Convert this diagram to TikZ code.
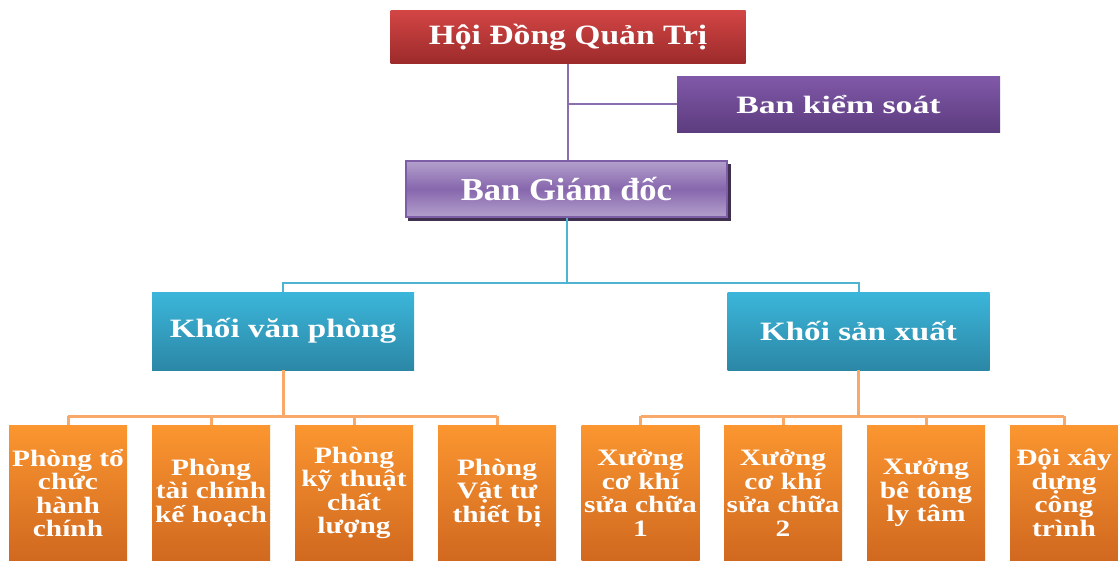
\documentclass[tikz,border=0pt]{standalone}
\usepackage{fontspec}
\setmainfont{Liberation Serif}
\newfontfamily\widefont[FakeStretch=1.25]{Liberation Serif}
\newfontfamily\widerfont[FakeStretch=1.35]{Liberation Serif}
\newfontfamily\topfont[FakeStretch=1.2]{Liberation Serif}
\newfontfamily\midfont[FakeStretch=1.08]{Liberation Serif}
\usepackage{tikz}
\usetikzlibrary{calc}

\definecolor{redtop}{HTML}{D24545}
\definecolor{redbot}{HTML}{9C2A2A}
\definecolor{purptop}{HTML}{8058A8}
\definecolor{purpbot}{HTML}{5C3C7E}
\definecolor{lilac}{HTML}{B3A0CC}
\definecolor{lilacmid}{HTML}{8767AD}
\definecolor{lilacline}{HTML}{7D5EA6}
\definecolor{lilacshadow}{HTML}{3F3050}
\definecolor{cyantop}{HTML}{3BB6DA}
\definecolor{cyanbot}{HTML}{2C87A6}
\definecolor{orangetop}{HTML}{FB9630}
\definecolor{orangebot}{HTML}{D0681F}
\definecolor{purpline}{HTML}{8A6FB0}
\definecolor{cyanline}{HTML}{4FB4D2}
\definecolor{orangeline}{HTML}{F8A868}

\tikzset{
    box/.style={inner sep=0pt, text=white, align=center},
    redbox/.style={box, top color=redtop, bottom color=redbot,
        minimum width=355, minimum height=53,
        font=\topfont\bfseries\fontsize{28}{30}\selectfont},
    purpbox/.style={box, top color=purptop, bottom color=purpbot,
        minimum width=323, minimum height=56,
        font=\widerfont\bfseries\fontsize{25}{27}\selectfont},
    lilacbox/.style={box, top color=lilac, bottom color=lilac, middle color=lilacmid,
        draw=lilacline, line width=2pt, minimum width=321, minimum height=56,
        font=\midfont\bfseries\fontsize{32}{34}\selectfont},
    cyanbox/.style={box, top color=cyantop, bottom color=cyanbot,
        minimum width=262, minimum height=78,
        font=\widefont\bfseries\fontsize{26.5}{28}\selectfont},
    orangebox/.style={box, top color=orangetop, bottom color=orangebot,
        minimum width=118, minimum height=136,
        font=\widefont\bfseries\fontsize{23.5}{23.5}\selectfont},
    purpconn/.style={draw=purpline, line width=2pt},
    cyanconn/.style={draw=cyanline, line width=2pt},
    orangeconn/.style={draw=orangeline, line width=3pt},
}

\begin{document}
\begin{tikzpicture}[x=1pt,y=-1pt]
    \useasboundingbox (0,0) rectangle (1118,561);
    \coordinate (pbus) at (0,104);
    \coordinate (cbus) at (0,283);
    \coordinate (obus) at (0,416);

    \node[redbox] (hdqt) at (568,37.5) {Hội Đồng Quản Trị};
    \node[purpbox] (bks) at (838.5,105) {Ban kiểm soát};
    \fill[lilacshadow] (408,164) rectangle (731,221);
    \node[lilacbox] (bgd) at (566.5,189) {Ban Giám đốc};
    \node[cyanbox] (kvp) at (283,331) {Khối văn phòng};
    \node[cyanbox] (ksx) at (858.5,331) {Khối sản xuất};

    \foreach \name/\x/\txt in {p1/68/{Phòng tổ\\chức\\hành\\chính},
        p2/211/{Phòng\\tài chính\\kế hoạch},
        p3/354/{Phòng\\kỹ thuật\\chất\\lượng},
        p4/497/{Phòng\\Vật tư\\thiết bị},
        x1/640.5/{Xưởng\\cơ khí\\sửa chữa\\1},
        x2/783/{Xưởng\\cơ khí\\sửa chữa\\2},
        x3/926/{Xưởng\\bê tông\\ly tâm}}
        \node[orangebox] (\name) at (\x,493) {\txt};
    \node[orangebox, minimum width=108] (x4) at (1064,493) {Đội xây\\dựng\\công\\trình};

    % purple
    \draw[purpconn] (hdqt.south) -- (hdqt.south |- bgd.north);
    \draw[purpconn] (hdqt.south |- pbus) -- (bks.west |- pbus);
    % cyan
    \draw[cyanconn] (bgd.south) -- (bgd.south |- cbus);
    \draw[cyanconn] (kvp.north) -- (kvp.north |- cbus) -- (ksx.north |- cbus) -- (ksx.north);
    % orange
    \draw[orangeconn] (kvp.south) -- (kvp.south |- obus);
    \draw[orangeconn] (ksx.south) -- (ksx.south |- obus);
    \draw[orangeconn] (p1.north |- obus) -- (p4.north |- obus);
    \draw[orangeconn] (x1.north |- obus) -- (x4.north |- obus);
    \foreach \name in {p1,p2,p3,p4,x1,x2,x3,x4}
        \draw[orangeconn] (\name.north) -- (\name.north |- obus);
\end{tikzpicture}
\end{document}
